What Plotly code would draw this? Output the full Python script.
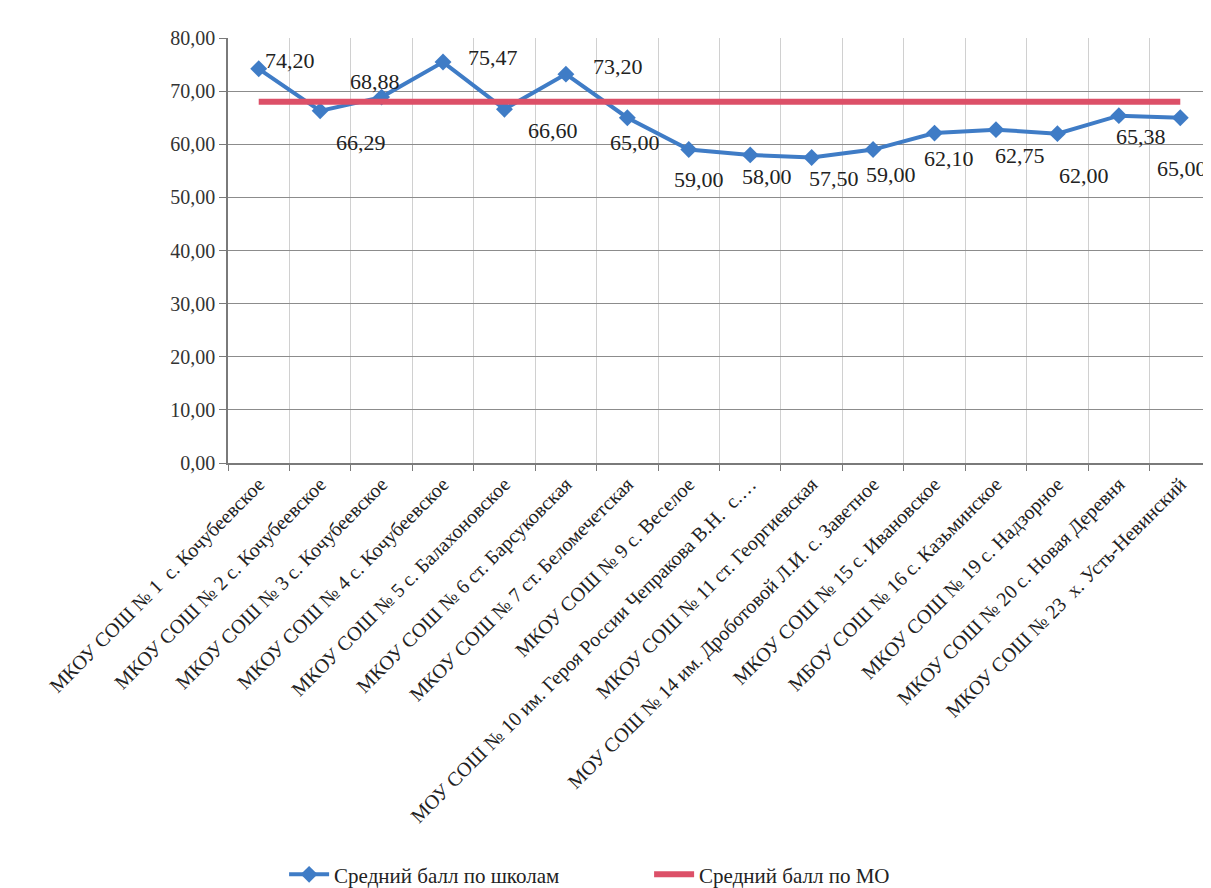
import plotly.graph_objects as go

categories = [
    "МКОУ СОШ № 1  с. Кочубеевское",
    "МКОУ СОШ № 2 с. Кочубеевское",
    "МКОУ СОШ № 3 с. Кочубеевское",
    "МКОУ СОШ № 4 с. Кочубеевское",
    "МКОУ СОШ № 5 с. Балахоновское",
    "МКОУ СОШ № 6 ст. Барсуковская",
    "МКОУ СОШ № 7 ст. Беломечетская",
    "МКОУ СОШ № 9 с. Веселое",
    "МОУ СОШ № 10 им. Героя России Чепракова В.Н.  с.…",
    "МКОУ СОШ № 11 ст. Георгиевская",
    "МОУ СОШ № 14 им. Дроботовой Л.И. с. Заветное",
    "МКОУ СОШ № 15 с. Ивановское",
    "МБОУ СОШ № 16 с. Казьминское",
    "МКОУ СОШ № 19 с. Надзорное",
    "МКОУ СОШ № 20 с. Новая Деревня",
    "МКОУ СОШ № 23  х. Усть-Невинский",
]
school_avg = [74.20, 66.29, 68.88, 75.47, 66.60, 73.20, 65.00, 59.00,
              58.00, 57.50, 59.00, 62.10, 62.75, 62.00, 65.38, 65.00]
mo_avg = [68.0, 68.0, 68.0, 68.0, 68.0, 68.0, 68.0, 68.0,
          68.0, 68.0, 68.0, 68.0, 68.0, 68.0, 68.0, 68.0]
y_ticks = [0, 10, 20, 30, 40, 50, 60, 70, 80]

# label placement offsets (px) relative to each point: right / down
label_dx = [31, 41, -7, 50, 49, 52, 8, 10, 17, 22, 18, 14, 24, 27, 22, 2]
label_dy = [-8, 32, -16, -5, 21, -8, 25, 30, 22, 21, 25, 25, 26, 42, 21, 51]

FONT = "Liberation Serif, serif"
BLUE = "#3F7CC6"
RED = "#DC5068"
TXT = "#222222"

fig = go.Figure()
fig.add_trace(go.Scatter(
    x=categories, y=school_avg, mode="lines+markers",
    name="Средний балл по школам",
    line=dict(color=BLUE, width=4),
    marker=dict(symbol="diamond", size=13, color=BLUE),
))
fig.add_trace(go.Scatter(
    x=categories, y=mo_avg, mode="lines",
    name="Средний балл по МО",
    line=dict(color=RED, width=6),
))

for c, v, dx, dy in zip(categories, school_avg, label_dx, label_dy):
    fig.add_annotation(
        x=c, y=v, text=f"{v:.2f}".replace(".", ","), showarrow=False,
        xshift=dx, yshift=-dy, xanchor="center", yanchor="middle",
        font=dict(family=FONT, size=22, color=TXT),
    )

fig.update_layout(
    width=1211, height=888,
    margin=dict(l=220, r=8, t=30, b=433, autoexpand=False),
    paper_bgcolor="white", plot_bgcolor="white",
    separators=", ",
    font=dict(family=FONT, color=TXT),
    showlegend=True,
    legend=dict(
        orientation="h", xref="container", yref="container",
        x=0.228, xanchor="left", y=0.024, yanchor="middle",
        font=dict(family=FONT, size=21, color=TXT),
        entrywidth=310, itemwidth=40,
    ),
)
fig.update_xaxes(
    type="category", tickson="boundaries", range=[-0.5, 15.5],
    showgrid=True, gridcolor="#d0d0d0", gridwidth=1,
    showline=True, linecolor="#7a7a7a", linewidth=1.5,
    ticks="outside", ticklen=6, tickcolor="#7a7a7a",
    tickangle=-45, automargin=False,
    tickfont=dict(family=FONT, size=20, color=TXT),
    mirror=False,
)
fig.update_yaxes(
    range=[0, 80], tickvals=y_ticks, tickformat=".2f",
    showgrid=True, gridcolor="#8c8c8c", gridwidth=1,
    showline=True, linecolor="#7a7a7a", linewidth=1.5,
    ticks="outside", ticklen=7, tickcolor="#7a7a7a",
    automargin=False, zeroline=False,
    tickfont=dict(family=FONT, size=20, color="#333333"),
)
# right plot border
fig.add_shape(type="line", xref="paper", yref="paper", x0=1, x1=1, y0=0, y1=1,
              line=dict(color="#b0b0b0", width=1))

fig.write_html("out.html")
